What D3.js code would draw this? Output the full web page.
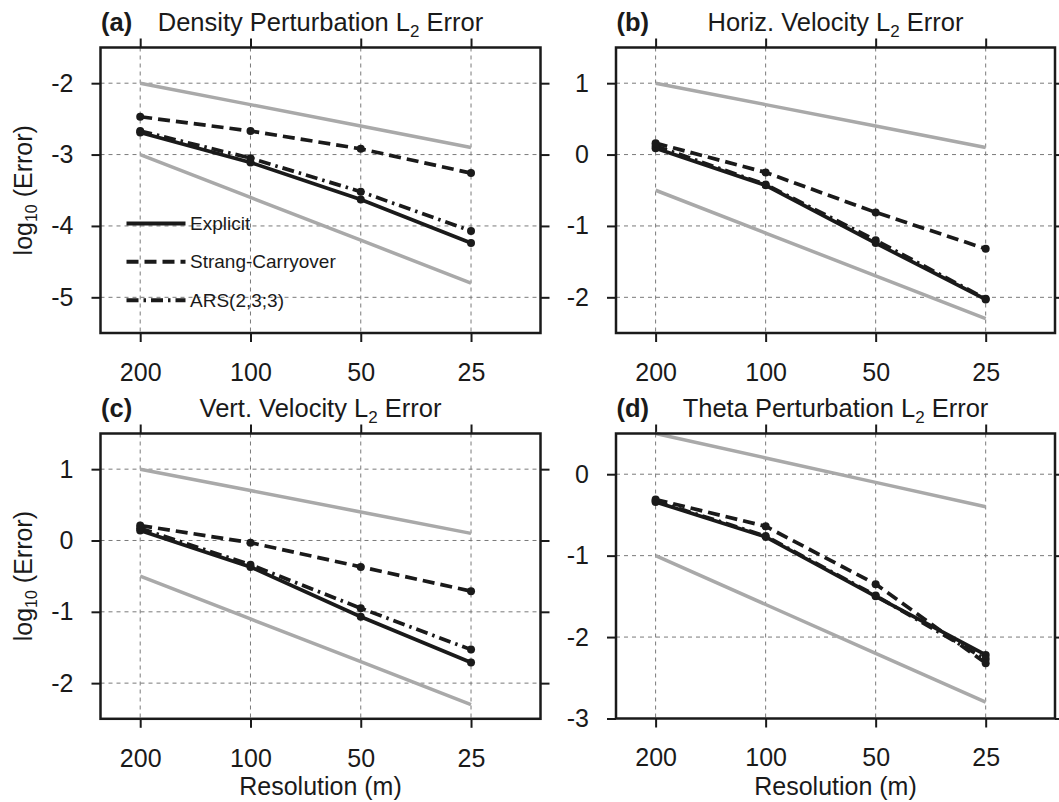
<!DOCTYPE html>
<html>
<head>
<meta charset="utf-8">
<script src="https://cdn.jsdelivr.net/npm/d3@7"></script>
<style>
  html, body { margin: 0; padding: 0; background: #fff; }
  svg { display: block; }
  text { font-family: "Liberation Sans", Arial, Helvetica, sans-serif; fill: #1a1a1a; }
</style>
</head>
<body>
<svg id="chart" width="1059" height="802"></svg>
<script>
// ---------------- data ----------------
const resolutions = ["200", "100", "50", "25"];
const seriesNames = ["Explicit", "Strang-Carryover", "ARS(2,3;3)"];

// (a) Density perturbation
const densityExplicit = [-2.69, -3.11, -3.63, -4.24];
const densityStrang   = [-2.47, -2.67, -2.92, -3.26];
const densityARS      = [-2.67, -3.05, -3.52, -4.07];
const densityRef1     = [-2.0, -2.3, -2.6, -2.9];
const densityRef2     = [-3.0, -3.6, -4.2, -4.8];
const densityTicks    = [-5, -4, -3, -2];

// (b) Horizontal velocity
const uExplicit = [0.09, -0.43, -1.24, -2.03];
const uStrang   = [0.16, -0.25, -0.81, -1.32];
const uARS      = [0.12, -0.42, -1.20, -2.02];
const uRef1     = [1.0, 0.7, 0.4, 0.1];
const uRef2     = [-0.5, -1.1, -1.7, -2.3];
const uTicks    = [-2, -1, 0, 1];

// (c) Vertical velocity
const wExplicit = [0.14, -0.37, -1.07, -1.71];
const wStrang   = [0.21, -0.03, -0.37, -0.71];
const wARS      = [0.17, -0.34, -0.95, -1.53];
const wRef1     = [1.0, 0.7, 0.4, 0.1];
const wRef2     = [-0.5, -1.1, -1.7, -2.3];
const wTicks    = [-2, -1, 0, 1];

// (d) Theta perturbation
const thetaExplicit = [-0.34, -0.77, -1.50, -2.22];
const thetaStrang   = [-0.31, -0.64, -1.35, -2.32];
const thetaARS      = [-0.33, -0.76, -1.49, -2.27];
const thetaRef1     = [0.5, 0.2, -0.1, -0.4];
const thetaRef2     = [-1.0, -1.6, -2.2, -2.8];
const thetaTicks    = [-3, -2, -1, 0];

// ---------------- layout ----------------
const FONT = 25;
const TITLE_FONT = 25.5;
const svg = d3.select("#chart");

const panels = [
  { tag: "(a)", title: ["Density Perturbation L", "2", " Error"], left: 100.5, top: 47.5, w: 440, h: 285.5,
    ydom: [-5.5, -1.5], yticks: densityTicks, series: [densityExplicit, densityStrang, densityARS],
    refs: [densityRef1, densityRef2], ylabel: true, xlabel: false, legend: true },
  { tag: "(b)", title: ["Horiz. Velocity L", "2", " Error"], left: 616, top: 47.5, w: 439, h: 285.5,
    ydom: [-2.5, 1.5], yticks: uTicks, series: [uExplicit, uStrang, uARS],
    refs: [uRef1, uRef2], ylabel: false, xlabel: false, legend: false },
  { tag: "(c)", title: ["Vert. Velocity L", "2", " Error"], left: 100.5, top: 433.5, w: 440, h: 285.3,
    ydom: [-2.5, 1.5], yticks: wTicks, series: [wExplicit, wStrang, wARS],
    refs: [wRef1, wRef2], ylabel: true, xlabel: true, legend: false },
  { tag: "(d)", title: ["Theta Perturbation L", "2", " Error"], left: 616, top: 433.5, w: 439, h: 285,
    ydom: [-3, 0.5], yticks: thetaTicks, series: [thetaExplicit, thetaStrang, thetaARS],
    refs: [thetaRef1, thetaRef2], ylabel: false, xlabel: true, legend: false }
];

const dashes = [null, "12,6", "12,5,2.5,5"];
const drawOrder = [0, 2, 1];

panels.forEach(p => {
  const g = svg.append("g").attr("transform", `translate(${p.left},${p.top})`);
  const x = d3.scaleLinear().domain([-0.36, 3.63]).range([0, p.w]);
  const y = d3.scaleLinear().domain(p.ydom).range([p.h, 0]);
  const xi = [0, 1, 2, 3];

  // grid
  const grid = g.append("g");
  grid.selectAll("line.gx").data(xi).join("line")
    .attr("x1", d => x(d)).attr("x2", d => x(d)).attr("y1", 0).attr("y2", p.h)
    .attr("stroke", "#7a7a7a").attr("stroke-width", 1).attr("stroke-dasharray", "4,4");
  grid.selectAll("line.gy").data(p.yticks).join("line")
    .attr("x1", 0).attr("x2", p.w).attr("y1", d => y(d)).attr("y2", d => y(d))
    .attr("stroke", "#7a7a7a").attr("stroke-width", 1).attr("stroke-dasharray", "4,4");

  // axes (ticks outside the frame on all four sides)
  const styleAxis = sel => {
    sel.select(".domain").remove();
    sel.selectAll(".tick line").attr("stroke", "#1a1a1a").attr("stroke-width", 2);
    sel.selectAll(".tick text").style("font-size", FONT + "px").attr("fill", "#1a1a1a");
  };
  g.append("g").attr("transform", `translate(0,${p.h})`)
    .call(d3.axisBottom(x).tickValues(xi).tickFormat(i => resolutions[i]).tickSize(9).tickPadding(21))
    .call(styleAxis);
  g.append("g")
    .call(d3.axisTop(x).tickValues(xi).tickFormat("").tickSize(9))
    .call(styleAxis);
  g.append("g")
    .call(d3.axisLeft(y).tickValues(p.yticks).tickFormat(d3.format("d")).tickSize(9).tickPadding(18))
    .call(styleAxis);
  g.append("g").attr("transform", `translate(${p.w},0)`)
    .call(d3.axisRight(y).tickValues(p.yticks).tickFormat("").tickSize(9))
    .call(styleAxis);
  g.selectAll(".tick text").each(function() {
    const t = d3.select(this); t.text(t.text().replace("−", "-"));
  });

  // reference slope lines
  const line = d3.line().x((d, i) => x(i)).y(d => y(d));
  p.refs.forEach(r => {
    g.append("path").datum(r).attr("d", line)
      .attr("fill", "none").attr("stroke", "#a9a9a9").attr("stroke-width", 3.5);
  });

  // series
  drawOrder.forEach(k => {
    const s = p.series[k];
    g.append("path").datum(s).attr("d", line)
      .attr("fill", "none").attr("stroke", "#1a1a1a").attr("stroke-width", 3.7)
      .attr("stroke-dasharray", dashes[k]);
    g.selectAll(null).data(s).join("circle")
      .attr("cx", (d, i) => x(i)).attr("cy", d => y(d)).attr("r", 4)
      .attr("fill", "#1a1a1a");
  });

  // frame
  g.append("rect").attr("width", p.w).attr("height", p.h)
    .attr("fill", "none").attr("stroke", "#1a1a1a").attr("stroke-width", 2.5);

  // title
  svg.append("text").attr("x", p.left + 0.5).attr("y", p.top - 16.5)
    .style("font-size", TITLE_FONT + "px").style("font-weight", "bold").text(p.tag);
  const t = svg.append("text").attr("x", p.left + p.w / 2).attr("y", p.top - 16.5)
    .attr("text-anchor", "middle").style("font-size", TITLE_FONT + "px");
  t.append("tspan").text(p.title[0]);
  t.append("tspan").attr("dy", 6).style("font-size", "17px").text(p.title[1]);
  t.append("tspan").attr("dy", -6).text(p.title[2]);

  // y label
  if (p.ylabel) {
    const yl = svg.append("text")
      .attr("transform", `translate(32,${p.top + p.h / 2}) rotate(-90)`)
      .attr("text-anchor", "middle").style("font-size", FONT + "px");
    yl.append("tspan").text("log");
    yl.append("tspan").attr("dy", 5).style("font-size", "16px").text("10");
    yl.append("tspan").attr("dy", -5).text(" (Error)");
  }
  // x label
  if (p.xlabel) {
    svg.append("text").attr("x", p.left + p.w / 2).attr("y", 795)
      .attr("text-anchor", "middle").style("font-size", FONT + "px").text("Resolution (m)");
  }

  // legend
  if (p.legend) {
    const lg = g.append("g");
    seriesNames.forEach((name, k) => {
      const yy = y(-4) - 2.5 + k * 38.4;
      lg.append("line").attr("x1", 26).attr("x2", 85).attr("y1", yy).attr("y2", yy)
        .attr("stroke", "#1a1a1a").attr("stroke-width", 4).attr("stroke-dasharray", dashes[k]);
      lg.append("text").attr("x", 89.5).attr("y", yy).attr("dy", "0.35em")
        .style("font-size", "19px").text(name);
    });
  }
});
</script>
</body>
</html>
